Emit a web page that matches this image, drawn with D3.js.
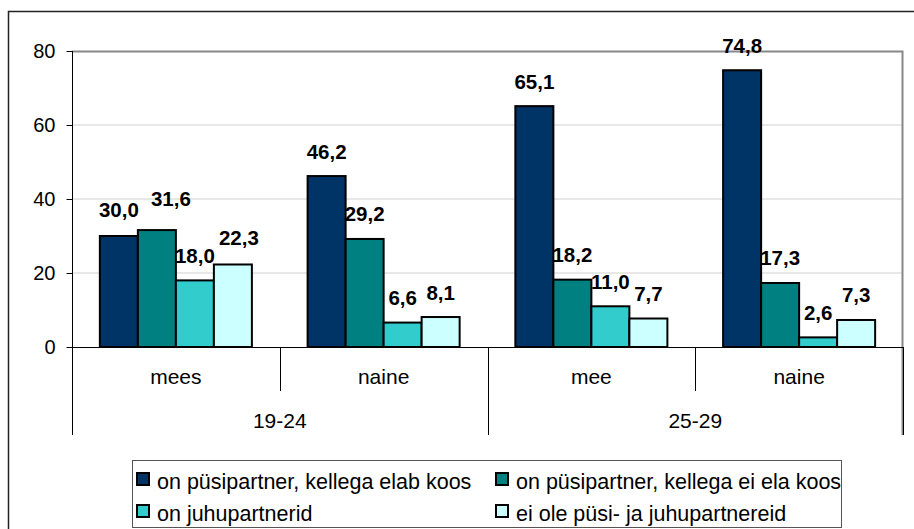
<!DOCTYPE html>
<meta charset="utf-8">
<script src="https://d3js.org/d3.v7.min.js"></script>
<style>
    body { margin: 0; background: #fff; }
    text { font-family: "Liberation Sans", Arial, sans-serif; fill: #000; }
    .tick-label { font-size: 20px; }
    .cat-label { font-size: 21px; text-anchor: middle; }
    .value-label { font-size: 20.5px; font-weight: bold; text-anchor: middle; }
    .legend-label { font-size: 21.5px; }
</style>
<div id="chart"></div>
<script>
    // categories (inner level) and age groups (outer level)
    const categories = ["mees", "naine", "mee", "naine"];
    const groups = ["19-24", "25-29"];
    const yTicks = [0, 20, 40, 60, 80];

    const seriesNames = [
        "on püsipartner, kellega elab koos",
        "on püsipartner, kellega ei ela koos",
        "on juhupartnerid",
        "ei ole püsi- ja juhupartnereid"
    ];
    const livesWith = [30.0, 46.2, 65.1, 74.8];
    const notLivesWith = [31.6, 29.2, 18.2, 17.3];
    const casual = [18.0, 6.6, 11.0, 2.6];
    const noPartner = [22.3, 8.1, 7.7, 7.3];

    const seriesValues = [livesWith, notLivesWith, casual, noPartner];
    const colors = ["#003366", "#008080", "#33cccc", "#ccffff"];

    // a few labels were moved by hand in the original chart
    const labelNudge = {"0-0": [0, -2], "1-0": [14, -7], "3-0": [6, -2]};

    const width = 914, height = 529;
    const plot = {left: 72, right: 903, top: 51, bottom: 347};

    let svg = d3.select("#chart")
        .append("svg")
        .attr("width", width)
        .attr("height", height);

    // outer chart frame
    svg.append("rect")
        .attr("x", 8.5).attr("y", 11.5)
        .attr("width", 920).attr("height", 540)
        .attr("fill", "#fff")
        .attr("stroke", "#222")
        .attr("stroke-width", 1.5);

    let x0 = d3.scaleBand()
        .domain(d3.range(categories.length))
        .range([plot.left, plot.right])
        .padding(0);

    let x1 = d3.scaleBand()
        .domain(d3.range(seriesNames.length))
        .range([0, x0.bandwidth()])
        .paddingInner(0)
        .paddingOuter(0.733);

    let y = d3.scaleLinear()
        .domain([0, 80])
        .range([plot.bottom, plot.top]);

    // gridlines
    svg.append("g")
        .selectAll("line")
        .data(yTicks.filter(d => d > 0 && d < 80))
        .enter().append("line")
        .attr("x1", plot.left).attr("x2", plot.right)
        .attr("y1", d => y(d)).attr("y2", d => y(d))
        .attr("stroke", "#d0d0d0")
        .attr("stroke-width", 1);

    // plot area border (top and right, grey)
    svg.append("path")
        .attr("d", "M" + plot.left + "," + (y(80) + 0.5) + "H" + (plot.right - 0.5) + "V" + 435)
        .attr("fill", "none")
        .attr("stroke", "#888")
        .attr("stroke-width", 2);

    // Y axis
    let yAxis = svg.append("g")
        .attr("transform", "translate(" + (plot.left + 0.5) + ",0)")
        .call(d3.axisLeft(y).tickValues(yTicks).tickSize(6).tickPadding(11).tickFormat(d3.format("d")));
    yAxis.select(".domain").remove();
    yAxis.selectAll(".tick line").attr("stroke", "#000");
    yAxis.selectAll(".tick text")
        .attr("class", "tick-label")
        .attr("font-family", null)
        .attr("font-size", null);

    svg.append("line")
        .attr("x1", plot.left + 0.5).attr("x2", plot.left + 0.5)
        .attr("y1", plot.top).attr("y2", 435)
        .attr("stroke", "#000");

    // bars
    let groupSel = svg.selectAll(".cat")
        .data(categories)
        .enter().append("g")
        .attr("class", "cat")
        .attr("transform", (d, i) => "translate(" + x0(i) + ",0)");

    groupSel.selectAll("rect")
        .data((d, ci) => seriesValues.map((vals, si) => ({si: si, ci: ci, v: vals[ci]})))
        .enter().append("rect")
        .attr("x", d => x1(d.si))
        .attr("y", d => y(d.v))
        .attr("width", x1.bandwidth())
        .attr("height", d => y(0) - y(d.v))
        .attr("fill", d => colors[d.si])
        .attr("stroke", "#000")
        .attr("stroke-width", 2);

    let fmt = d3.format(".1f");
    groupSel.selectAll(".value-label")
        .data((d, ci) => seriesValues.map((vals, si) => ({si: si, ci: ci, v: vals[ci]})))
        .enter().append("text")
        .attr("class", "value-label")
        .attr("x", d => x1(d.si) + x1.bandwidth() / 2 + (labelNudge[d.si + "-" + d.ci] || [0, 0])[0])
        .attr("y", d => y(d.v) - 17.5 + (labelNudge[d.si + "-" + d.ci] || [0, 0])[1])
        .text(d => fmt(d.v).replace(".", ","));

    // X axis line
    svg.append("line")
        .attr("x1", plot.left).attr("x2", plot.right)
        .attr("y1", plot.bottom + 0.5).attr("y2", plot.bottom + 0.5)
        .attr("stroke", "#000");

    // category separators
    let perGroup = categories.length / groups.length;
    svg.selectAll(".sep")
        .data(d3.range(categories.length + 1))
        .enter().append("line")
        .attr("x1", i => Math.round(plot.left + i * x0.step()) + 0.5)
        .attr("x2", i => Math.round(plot.left + i * x0.step()) + 0.5)
        .attr("y1", plot.bottom)
        .attr("y2", i => i % perGroup === 0 ? 435 : 391)
        .attr("stroke", "#000");

    svg.selectAll(".cat-label")
        .data(categories)
        .enter().append("text")
        .attr("class", "cat-label")
        .attr("x", (d, i) => x0(i) + x0.bandwidth() / 2)
        .attr("y", 384)
        .text(d => d);

    svg.selectAll(".grp-label")
        .data(groups)
        .enter().append("text")
        .attr("class", "cat-label")
        .attr("x", (d, i) => plot.left + (i + 0.5) * perGroup * x0.step())
        .attr("y", 428)
        .text(d => d);

    // legend
    let legend = svg.append("g");
    legend.append("rect")
        .attr("x", 132.5).attr("y", 460.5)
        .attr("width", 709).attr("height", 67)
        .attr("fill", "#fff")
        .attr("stroke", "#555")
        .attr("stroke-width", 1);

    let items = legend.selectAll(".item")
        .data(seriesNames)
        .enter().append("g")
        .attr("transform", (d, i) => "translate(" + (137 + (i % 2) * 359) + "," + (473 + Math.floor(i / 2) * 32) + ")");

    items.append("rect")
        .attr("width", 12).attr("height", 12)
        .attr("fill", (d, i) => colors[i])
        .attr("stroke", "#000")
        .attr("stroke-width", 2);

    items.append("text")
        .attr("class", "legend-label")
        .attr("x", 20)
        .attr("y", 15.5)
        .text(d => d);
</script>
